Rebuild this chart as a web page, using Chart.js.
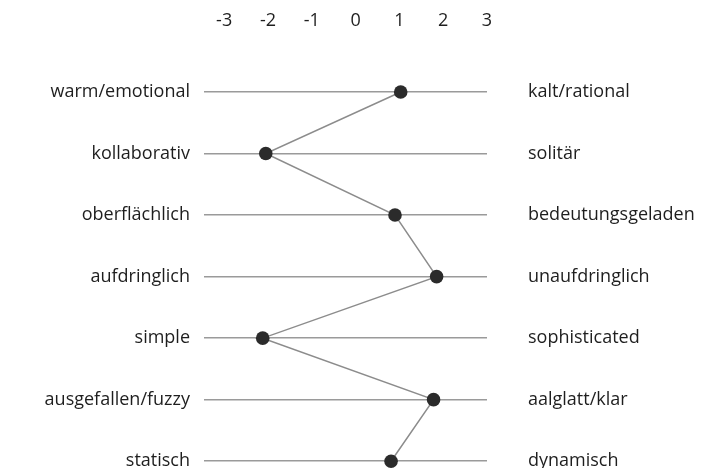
<!DOCTYPE html>
<html>
<head>
<meta charset="utf-8">
<script src="https://cdn.jsdelivr.net/npm/chart.js@4.4.1/dist/chart.umd.min.js"></script>
<style>
  html, body { margin: 0; padding: 0; background: #fff; }
  #wrap { width: 707px; height: 468px; }
</style>
</head>
<body>
<div id="wrap"><canvas id="chart"></canvas></div>
<script>
const leftLabels = ["warm/emotional", "kollaborativ", "oberflächlich", "aufdringlich", "simple", "ausgefallen/fuzzy", "statisch"];
const rightLabels = ["kalt/rational", "solitär", "bedeutungsgeladen", "unaufdringlich", "sophisticated", "aalglatt/klar", "dynamisch"];
const scores = [1.03, -2.05, 0.9, 1.85, -2.12, 1.78, 0.81];
const xTicks = [-3, -2, -1, 0, 1, 2, 3];

const font = { family: "'Open Sans', 'Noto Sans', sans-serif", size: 18 };
const textColor = "#1e1e1e";

// y axes: fixed width, no extra label padding so the rows fill the area
const fixWidth = (w) => (scale) => {
  scale.width = w;
  scale.paddingTop = 0;
  scale.paddingBottom = 0;
};

const ctx = document.getElementById("chart").getContext("2d");
new Chart(ctx, {
  type: "line",
  data: {
    datasets: [
      {
        data: scores.map((v, i) => ({ x: v, y: i })),
        borderColor: "#8c8c8c",
        borderWidth: 1.5,
        pointRadius: 6.8,
        pointHoverRadius: 6.8,
        pointBackgroundColor: "#2b2b2b",
        pointBorderWidth: 0,
        tension: 0,
        clip: false,
      },
    ],
  },
  options: {
    responsive: true,
    maintainAspectRatio: false,
    animation: false,
    layout: { padding: { top: 0, bottom: 6, left: 0, right: 0 } },
    plugins: { legend: { display: false }, tooltip: { enabled: false } },
    scales: {
      x: {
        type: "linear",
        position: "top",
        min: -3.46,
        max: 3,
        afterBuildTicks: (scale) => {
          scale.ticks = xTicks.map((v) => ({ value: v }));
        },
        afterFit: (scale) => {
          scale.height = 92;
          scale.paddingLeft = 0;
          scale.paddingRight = 0;
        },
        grid: { display: false },
        border: { display: false },
        ticks: { color: textColor, font, padding: 52, maxRotation: 0 },
      },
      y: {
        type: "linear",
        position: "left",
        reverse: true,
        min: 0,
        max: 6,
        afterBuildTicks: (scale) => {
          scale.ticks = leftLabels.map((_, i) => ({ value: i }));
        },
        afterFit: fixWidth(204),
        grid: { color: "#9a9a9a", lineWidth: 1.5, drawTicks: false },
        border: { display: false },
        ticks: { color: textColor, font, padding: 14, callback: (v) => leftLabels[v] },
      },
      y2: {
        type: "linear",
        position: "right",
        reverse: true,
        min: 0,
        max: 6,
        afterBuildTicks: (scale) => {
          scale.ticks = rightLabels.map((_, i) => ({ value: i }));
        },
        afterFit: fixWidth(220),
        grid: { display: false, drawTicks: false },
        border: { display: false },
        ticks: { color: textColor, font, padding: 41, callback: (v) => rightLabels[v] },
      },
    },
  },
});
</script>
</body>
</html>
